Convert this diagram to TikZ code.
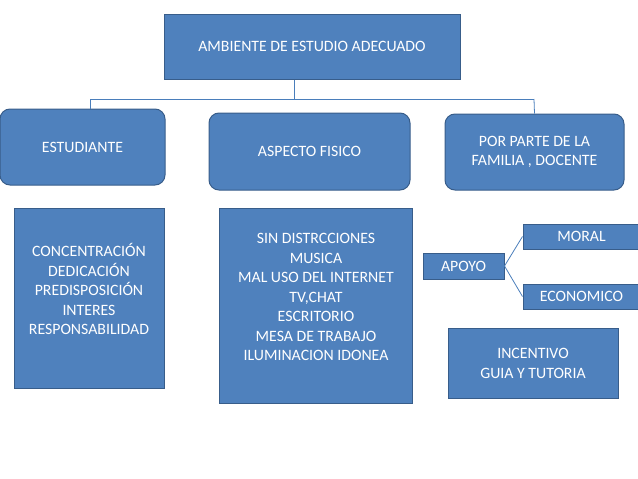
\documentclass[tikz,border=0pt]{standalone}
\usepackage{fontspec}
\setmainfont{Carlito}
\usepackage{tikz}

\definecolor{boxfill}{HTML}{4F81BD}
\definecolor{boxline}{HTML}{385D8A}
\definecolor{linkline}{HTML}{4A7EBB}

\begin{document}
\begin{tikzpicture}[x=1pt,y=-1pt,
    box/.style={draw=boxline, line width=1pt, fill=boxfill, inner sep=0pt,
      text=white, align=center, font=\fontsize{15.8}{19.5}\selectfont},
    rbox/.style={box, rounded corners=10pt},
    txt/.style={text=white, align=center, font=\fontsize{15.8}{19.5}\selectfont},
    conn/.style={draw=linkline, line width=0.8pt}]
        \useasboundingbox (0,0) rectangle (638,479);
        % top level
        \node[box, minimum width=296pt, minimum height=65pt] (top) at (312,46.5) {AMBIENTE DE ESTUDIO ADECUADO};
        % second level
        \node[rbox, minimum width=165pt, minimum height=76pt] (est) at (82.5,147) {ESTUDIANTE};
        \node[rbox, minimum width=201pt, minimum height=77pt] (asp) at (309.5,151.5) {ASPECTO FISICO};
        \node[rbox, minimum width=179pt, minimum height=76pt] (fam) at (534.5,152) {POR PARTE DE LA\\FAMILIA , DOCENTE};
        % links
        \coordinate (hub) at (294,99);
        \coordinate (j1) at (90,99);
        \coordinate (j3) at (534,99);
        \draw[conn] (top.south -| hub) -- (hub);
        \draw[conn] (j1) -- (j3);
        \draw[conn] (j1) -- (j1 |- est.north);
        \draw[conn] (j3) -- (fam.north);
        % third level
        \node[box, minimum width=150pt, minimum height=180pt] (estlist) at (89,298) {};
        \node[txt] (estlist-txt) at (89,289) {CONCENTRACIÓN\\DEDICACIÓN\\PREDISPOSICIÓN\\INTERES\\RESPONSABILIDAD};
        \node[box, minimum width=193pt, minimum height=195pt] (asplist) at (315.5,305.5) {};
        \node[txt] (asplist-txt) at (316,297) {SIN DISTRCCIONES\\MUSICA\\MAL USO DEL INTERNET\\TV,CHAT\\ESCRITORIO\\MESA DE TRABAJO\\ILUMINACION IDONEA};
        \node[box, minimum width=81pt, minimum height=26pt] (apoyo) at (463.5,266) {APOYO};
        \node[box, minimum width=117pt, minimum height=25pt] (moral) at (581.5,236.5) {MORAL};
        \node[box, minimum width=117pt, minimum height=25pt] (econ) at (581.5,296.5) {ECONOMICO};
        \node[box, minimum width=170pt, minimum height=70pt] (incent) at (533,363.5) {INCENTIVO\\GUIA Y TUTORIA};
        \draw[conn] (apoyo.east) -- (moral.west);
        \draw[conn] (apoyo.east) -- (econ.west);
      \end{tikzpicture}
\end{document}
